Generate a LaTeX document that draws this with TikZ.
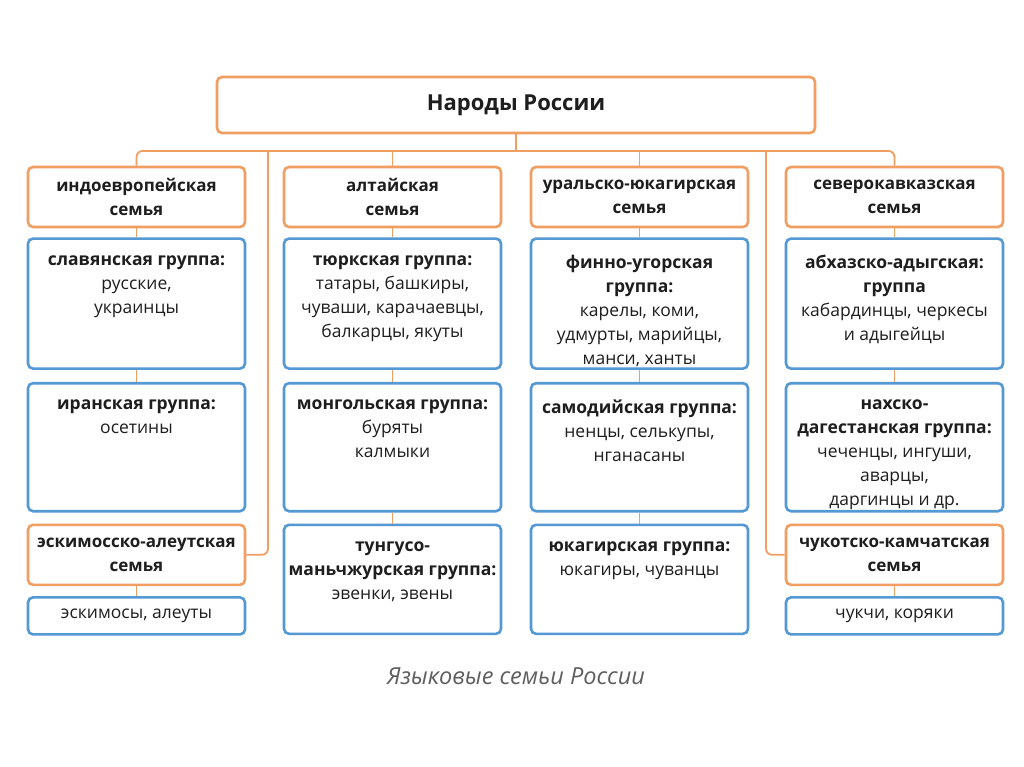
\documentclass[tikz,border=0pt]{standalone}
\usepackage{fontspec}
\setmainfont{Open Sans}
\usetikzlibrary{positioning, calc}
\definecolor{famorange}{RGB}{240,158,98}
\definecolor{grpblue}{RGB}{84,152,212}
\definecolor{captgray}{RGB}{95,95,95}
\definecolor{inkgray}{RGB}{30,30,30}

\begin{document}
\begin{tikzpicture}[
    x=1pt, y=-1pt,
    fam/.style={draw=famorange, line width=2.6pt, rounded corners=5pt, fill=white, text=inkgray, minimum width=217pt, minimum height=60pt, align=center, font=\bfseries\fontsize{17}{24}\selectfont},
    grp/.style={draw=grpblue, line width=2.6pt, rounded corners=5pt, fill=white, text=inkgray, minimum width=217pt, align=center, font=\fontsize{17.5}{24}\selectfont},
    lbl/.style={anchor=north, align=center, text=inkgray, font=\fontsize{17.5}{24}\selectfont, inner sep=0pt, yshift=-18pt},
    conn/.style={draw=famorange, line width=1.8pt},
]

\fill[white] (0,0) rectangle (1024,767);
\useasboundingbox (0,0) rectangle (1024,767);

% top
\node[fam, minimum width=598pt, minimum height=56pt, font=\bfseries\fontsize{22}{26}\selectfont] (narody) at (516,105) {Народы России};

% families
\node[fam] (indo) at (136.5,197) {индоевропейская\\семья};
\node[fam] (alt) at (392.5,197) {алтайская\\семья};
\node[fam] (ural) at (639.5,197) {уральско-юкагирская\\семья};
\node[fam] (sevkav) at (894.5,197) {северокавказская\\семья};

% indo-european column
\node[grp, minimum height=130pt, below=9pt of indo, label={[lbl]north:{\textbf{славянская группа:}\\русские,\\украинцы}}] (slav) {};
\node[grp, minimum height=128pt, below=12pt of slav, label={[lbl]north:{\textbf{иранская группа:}\\осетины}}] (iran) {};
\node[fam, below=11pt of iran] (eskfam) {эскимосско-алеутская\\семья};
\node[grp, minimum height=37pt, below=10pt of eskfam] (eskpeople) {эскимосы, алеуты};

% altaic column
\node[grp, minimum height=130pt, below=9pt of alt, label={[lbl]north:{\textbf{тюркская группа:}\\татары, башкиры,\\чуваши, карачаевцы,\\балкарцы, якуты}}] (turk) {};
\node[grp, minimum height=128pt, below=12pt of turk, label={[lbl]north:{\textbf{монгольская группа:}\\буряты\\калмыки}}] (mong) {};
\node[grp, minimum height=109pt, below=11pt of mong, label={[lbl]north:{\textbf{тунгусо-}\\\textbf{маньчжурская группа:}\\эвенки, эвены}}] (tung) {};

% uralic column
\node[grp, minimum height=130pt, below=9pt of ural, label={[lbl]north:{\textbf{финно-угорская}\\\textbf{группа:}\\карелы, коми,\\удмурты, марийцы,\\манси, ханты}}] (finn) {};
\node[grp, minimum height=128pt, below=12pt of finn, label={[lbl]north:{\textbf{самодийская группа:}\\ненцы, селькупы,\\нганасаны}}] (samod) {};
\node[grp, minimum height=109pt, below=11pt of samod, label={[lbl]north:{\textbf{юкагирская группа:}\\юкагиры, чуванцы}}] (yukag) {};

% north caucasian column
\node[grp, minimum height=130pt, below=9pt of sevkav, label={[lbl]north:{\textbf{абхазско-адыгская:}\\\textbf{группа}\\кабардинцы, черкесы\\и адыгейцы}}] (abkh) {};
\node[grp, minimum height=128pt, below=12pt of abkh, label={[lbl]north:{\textbf{нахско-}\\\textbf{дагестанская группа:}\\чеченцы, ингуши,\\аварцы,\\даргинцы и др.}}] (nakh) {};
\node[fam, below=11pt of nakh] (chukfam) {чукотско-камчатская\\семья};
\node[grp, minimum height=37pt, below=10pt of chukfam] (chukpeople) {чукчи, коряки};

% caption
\node[text=captgray, font=\itshape\fontsize{23.5}{28}\selectfont] (caption) at (516,676) {Языковые семьи России};

% connectors
\coordinate (bus) at (516,151);
\coordinate (eskbranch) at (268,151);
\coordinate (chukbranch) at (766,151);
\draw[conn] (narody.south) -- (narody.south |- bus);
\draw[conn, rounded corners=6pt] (indo.north) |- (bus) -| (sevkav.north);
\draw[conn] (alt.north) -- (alt.north |- bus);
\draw[conn] (ural.north) -- (ural.north |- bus);
\draw[conn, rounded corners=6pt] (eskbranch) |- (eskfam.east);
\draw[conn, rounded corners=6pt] (chukbranch) |- (chukfam.west);
\foreach \a/\b in {indo/slav, slav/iran, eskfam/eskpeople, alt/turk, turk/mong, mong/tung, ural/finn, finn/samod, samod/yukag, sevkav/abkh, abkh/nakh, chukfam/chukpeople}
    \draw[conn] (\a) -- (\b);

\end{tikzpicture}
\end{document}
